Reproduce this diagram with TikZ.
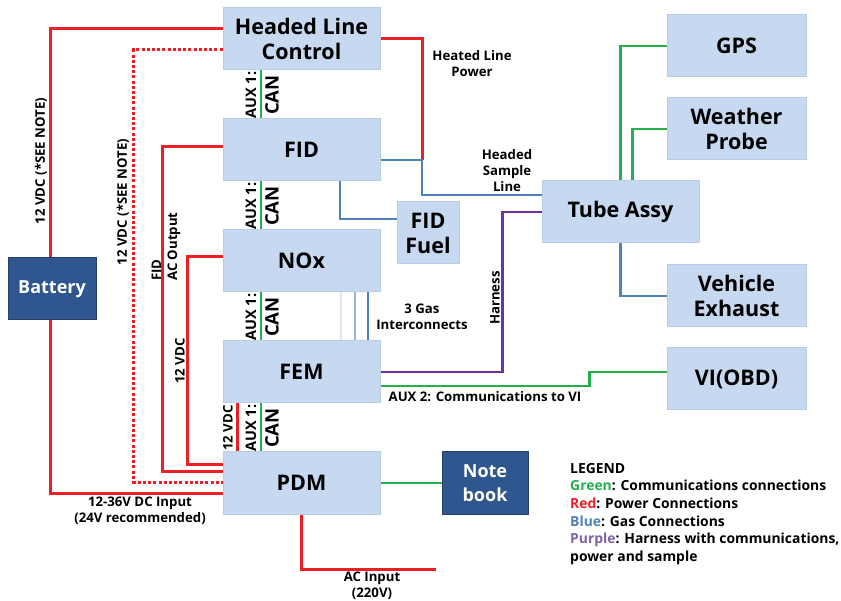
\documentclass[tikz,border=0pt]{standalone}
\usepackage{fontspec}
\setmainfont{Open Sans}
\usetikzlibrary{positioning}
\definecolor{boxfill}{RGB}{198,217,241}
\definecolor{boxline}{RGB}{184,204,228}
\definecolor{darkfill}{RGB}{47,86,142}
\definecolor{darkline}{RGB}{36,64,105}
\definecolor{pwrred}{RGB}{236,32,36}
\definecolor{comgreen}{RGB}{34,177,76}
\definecolor{gasblue}{RGB}{79,129,189}
\definecolor{gaslight}{RGB}{149,179,215}
\definecolor{gaspale}{RGB}{220,230,242}
\definecolor{harpurple}{RGB}{112,48,160}
\definecolor{legpurple}{RGB}{128,100,162}

\begin{document}
\begin{tikzpicture}[x=1pt, y=-1pt,
    unit/.style={draw=boxline, line width=1pt, fill=boxfill, minimum width=157pt, minimum height=62pt,
        inner sep=0pt, align=center, font=\bfseries\fontsize{21.5}{25}\selectfont},
    side/.style={unit, minimum width=139pt},
    dark/.style={draw=darkline, line width=1pt, fill=darkfill, text=white, minimum height=62pt,
        inner sep=0pt, align=center, font=\bfseries\fontsize{18}{24}\selectfont},
    pwr/.style={draw=pwrred, line width=3pt},
    com/.style={draw=comgreen, line width=2.8pt},
    gas/.style={draw=gasblue, line width=2.8pt},
    lbl/.style={inner sep=0pt, align=center, font=\bfseries\fontsize{13.2}{16}\selectfont},
    aux/.style={inner sep=0pt, rotate=90, font=\bfseries\fontsize{14.5}{15}\selectfont},
    can/.style={inner sep=0pt, rotate=90, font=\bfseries\fontsize{18.5}{19}\selectfont}]
    \useasboundingbox (0,0) rectangle (841,601);
    % Main column of modules
    \node[unit] (hlc) at (301.5,39) {Headed Line\\Control};
    \node[unit] (fid) at (301.5,150) {FID};
    \node[unit] (nox) at (301.5,261) {NOx};
    \node[unit] (fem) at (301.5,372) {FEM};
    \node[unit] (pdm) at (301.5,483) {PDM};
    \node[unit, minimum width=62pt] (fuel) at (428,233) {FID\\Fuel};
    \node[unit] (tube) at (620.5,212) {Tube Assy};
    % Right column
    \node[side] (gps) at (736.5,46) {GPS};
    \node[side] (wp) at (736.5,129) {Weather\\Probe};
    \node[side] (exh) at (736.5,296) {Vehicle\\Exhaust};
    \node[side] (vi) at (736.5,379) {VI(OBD)};
    % Battery and notebook
    \node[dark, minimum width=88pt] (bat) at (52,289) {Battery};
    \node[dark, minimum width=86pt] (nb) at (485,483) {Note\\book};
    \coordinate (hjoin) at (422,160);
    \coordinate (acin) at (436,569);

    % Power connections
    \draw[pwr] ([xshift=-2pt]bat.north) |- ([yshift=10pt]hlc.west);
    \draw[pwr] ([xshift=-2pt]bat.south) |- ([yshift=-10pt]pdm.west);
    \draw[pwr, dash pattern=on 3pt off 2.2pt] ([yshift=-11pt]hlc.west) -- ++(-89,0) |- ([yshift=1pt]pdm.west);
    \draw[pwr] ([yshift=3pt]fid.west) -- ++(-60,0) |- ([yshift=11pt]pdm.west);
    \draw[pwr] ([yshift=4pt]nox.west) -- ++(-35,0) |- ([yshift=18pt]pdm.west);
    \draw[pwr] ([xshift=-64.5pt]fem.south) -- ([xshift=-64.5pt]pdm.north);
    \draw[pwr] (hlc.east) -| (hjoin);
    \draw[pwr] (pdm.south) |- (acin);
    % CAN links
    \draw[com] ([xshift=-40.5pt]hlc.south) -- ([xshift=-40.5pt]fid.north);
    \draw[com] ([xshift=-40.5pt]fid.south) -- ([xshift=-40.5pt]nox.north);
    \draw[com] ([xshift=-40.5pt]nox.south) -- ([xshift=-40.5pt]fem.north);
    \draw[com] ([xshift=-40.5pt]fem.south) -- ([xshift=-40.5pt]pdm.north);
    % Gas connections
    \draw[gas] ([yshift=-10pt]fid.east) -- (hjoin) |- ([yshift=17pt]tube.west);
    \draw[gas] ([xshift=38.5pt]fid.south) |- ([yshift=14pt]fuel.west);
    \draw[gaspale, line width=2.8pt] ([xshift=39.5pt]nox.south) -- ([xshift=39.5pt]fem.north);
    \draw[gaslight, line width=2.8pt] ([xshift=53.5pt]nox.south) -- ([xshift=53.5pt]fem.north);
    \draw[gas] ([xshift=66.5pt]nox.south) -- ([xshift=66.5pt]fem.north);
    \draw[gas] (tube.south) |- (exh.west);
    % Harness and communications
    \draw[harpurple, line width=2.8pt] (fem.east) -- ++(122,0) |- (tube.west);
    \draw[com] ([yshift=-14pt]fem.east) -- ++(209,0) |- ([yshift=7pt]vi.west);
    \draw[com] (tube.north) |- (gps.west);
    \draw[com] ([xshift=12pt]tube.north) |- (wp.west);
    \draw[com] (pdm.east) -- (nb.west);

    % Labels
    \node[lbl, rotate=90] (l1) at (41,161) {12 VDC (*SEE NOTE)};
    \node[lbl, rotate=90] (l2) at (123,202) {12 VDC (*SEE NOTE)};
    \node[lbl, rotate=90, anchor=west, align=left] (l3) at (166,281) {FID\\AC Output};
    \node[lbl, rotate=90] (l4) at (180,361) {12 VDC};
    \node[lbl, rotate=90] (l5) at (228,428) {12 VDC};
    \foreach \yy in {95,206,317,428} {
        \node[aux] at (251,\yy) {AUX 1:};
        \node[can] at (272,\yy) {CAN};
    }
    \node[lbl] (l6) at (472,64) {Heated Line\\Power};
    \node[lbl] (l7) at (507,171) {Headed\\Sample\\Line};
    \node[lbl] (l8) at (422,317) {3 Gas\\Interconnects};
    \node[lbl, rotate=90] (l9) at (495,298) {Harness};
    \node[lbl] (l10) at (485,397) {AUX 2: Communications to VI};
    \node[lbl] (l11) at (140,511) {12-36V DC Input\\(24V recommended)};
    \node[lbl] (l12) at (372,586) {AC Input\\(220V)};
    % Legend
    \node[lbl, anchor=north west, align=left, font=\bfseries\fontsize{13.9}{17.6}\selectfont] (leg) at (570,463)
        {LEGEND\\
         \textcolor{comgreen}{Green}: Communications connections\\
         \textcolor{pwrred}{Red}: Power Connections\\
         \textcolor{gasblue}{Blue}: Gas Connections\\
         \textcolor{legpurple}{Purple}: Harness with communications,\\
         power and sample};
\end{tikzpicture}
\end{document}
